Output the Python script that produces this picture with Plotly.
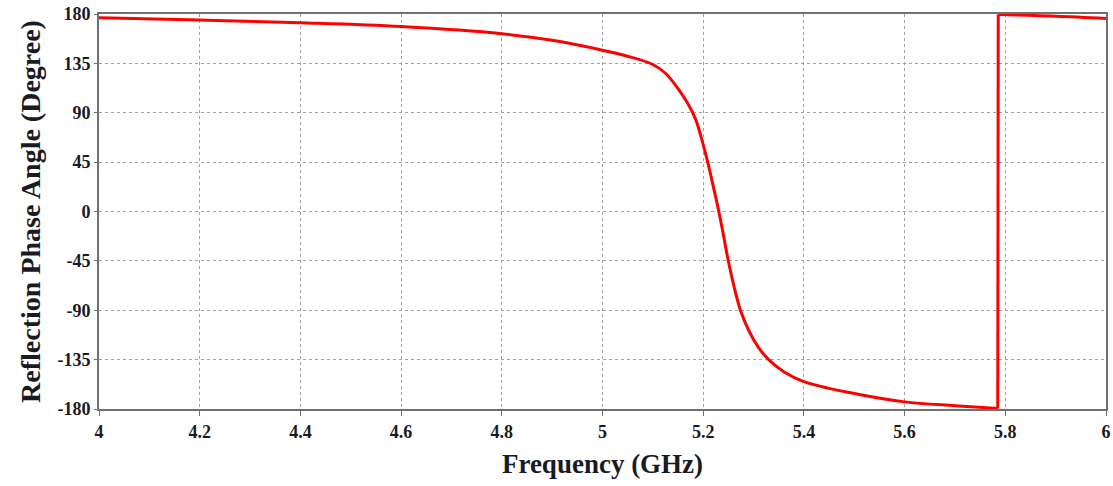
import plotly.graph_objects as go

freq = [4.0, 4.2, 4.4, 4.6, 4.8, 4.9, 5.0, 5.05, 5.1, 5.125, 5.15, 5.17, 5.185, 5.197,
        5.209, 5.22, 5.231, 5.24, 5.249, 5.26, 5.274, 5.29, 5.31, 5.33, 5.36, 5.4, 5.49,
        5.6, 5.7, 5.785, 5.786, 5.9, 6.0]
phase = [176.5, 174.5, 172, 168.5, 162, 156, 147, 141.5, 134, 126, 112, 98, 84, 66,
         45, 23, 0, -21, -43, -66, -90, -108, -124, -135, -146, -155, -165,
         -173.5, -177, -179.5, 179.5, 178, 176]

x_ticks = [4.0, 4.2, 4.4, 4.6, 4.8, 5.0, 5.2, 5.4, 5.6, 5.8, 6.0]
x_tick_labels = ["4", "4.2", "4.4", "4.6", "4.8", "5", "5.2", "5.4", "5.6", "5.8", "6"]
y_ticks = [-180, -135, -90, -45, 0, 45, 90, 135, 180]
y_tick_labels = ["-180", "-135", "-90", "-45", "0", "45", "90", "135", "180"]

# split at the phase wrap so the smooth spline does not overshoot at the jump
jump = max(range(1, len(phase)), key=lambda i: abs(phase[i] - phase[i - 1]))

line_style = dict(color="#ff0000", width=3)
fig = go.Figure()
fig.add_trace(go.Scatter(x=freq[:jump], y=phase[:jump], mode="lines",
                         line=dict(**line_style, shape="spline", smoothing=1.0), showlegend=False))
fig.add_trace(go.Scatter(x=freq[jump - 1:jump + 1], y=phase[jump - 1:jump + 1], mode="lines",
                         line=line_style, showlegend=False))
fig.add_trace(go.Scatter(x=freq[jump:], y=phase[jump:], mode="lines",
                         line=dict(**line_style, shape="spline", smoothing=1.0), showlegend=False))

font_family = "Liberation Serif, Times New Roman, serif"
fig.update_layout(
    width=1113, height=486,
    margin=dict(l=99, r=7, t=14, b=77),
    paper_bgcolor="white", plot_bgcolor="white",
    font=dict(family=font_family, color="#1a1a22"),
)
fig.update_xaxes(
    range=[4, 6], tickvals=x_ticks, ticktext=x_tick_labels, automargin=False,
    showgrid=True, gridcolor="#a0a0a0", griddash="dot", gridwidth=1,
    showline=True, linecolor="#707070", linewidth=2, mirror=True,
    ticks="outside", ticklen=5, tickcolor="#707070",
    tickfont=dict(size=18, family=font_family, weight="bold"),
    title=dict(text="<b>Frequency (GHz)</b>", font=dict(size=27, family=font_family), standoff=14),
    zeroline=False,
)
fig.update_yaxes(
    range=[-180, 180], tickvals=y_ticks, ticktext=y_tick_labels, automargin=False,
    showgrid=True, gridcolor="#a0a0a0", griddash="dot", gridwidth=1,
    showline=True, linecolor="#707070", linewidth=2, mirror=True,
    ticks="outside", ticklen=3, tickcolor="#707070",
    tickfont=dict(size=18, family=font_family, weight="bold"),
    title=dict(text="<b>Reflection Phase Angle (Degree)</b>", font=dict(size=28, family=font_family), standoff=9),
    zeroline=False,
)
fig.write_html("out.html", config={"displayModeBar": False},
               post_script="document.body.style.margin='0';document.body.style.overflow='hidden';")
